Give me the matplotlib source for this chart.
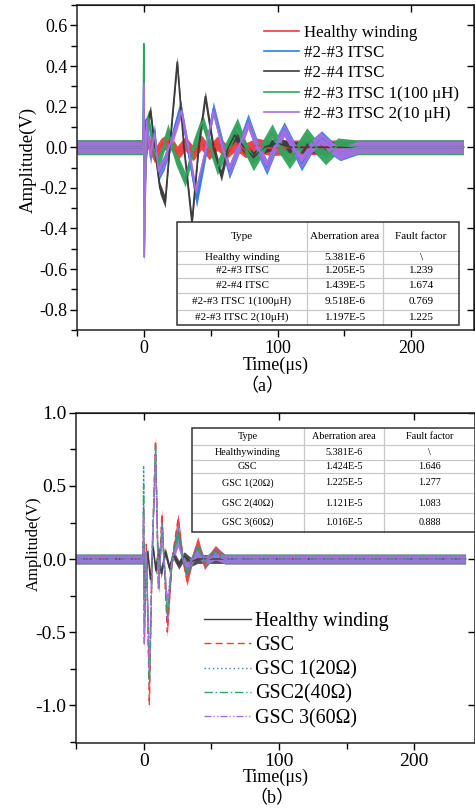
import numpy as np
import matplotlib
matplotlib.use("Agg")
import matplotlib.pyplot as plt
from matplotlib.patches import Rectangle
from matplotlib.ticker import MultipleLocator

plt.rcParams['font.family'] = ['Liberation Serif', 'Noto Sans CJK SC', 'DejaVu Sans']
plt.rcParams['axes.unicode_minus'] = False

# ---------------- (a) ITSC waveforms ----------------
A_LABELS = ['Healthy winding', '#2-#3 ITSC', '#2-#4 ITSC',
            '#2-#3 ITSC 1(100 μH)', '#2-#3 ITSC 2(10 μH)']
A_COLORS = ['#f23a3a', '#2f7ee6', '#3c3c3c', '#33a35e', '#a86fe3']

a_t_healthy = [-50, -0.5, 0, 0.4, 3, 8, 13, 19, 25, 31, 37, 43, 49, 55, 62, 69, 76, 84, 95, 110, 239]
a_v_healthy = [0, 0, 0.14, -0.12, 0.03, -0.04, 0.01, 0.035, -0.03, 0.02, -0.03, 0.025,
               -0.025, 0.02, -0.02, 0.02, -0.015, 0.01, -0.005, 0, 0]

a_t_23 = [-50, -0.5, 0, 0.3, 2, 5, 8, 11, 15, 20, 27.5, 33.5, 39.5, 46, 52, 58, 64, 71,
          78, 85, 92, 98, 105, 112, 118, 125, 133, 140, 147, 160, 239]
a_v_23 = [0, 0, 0.3, -0.54, 0.14, -0.05, 0.08, -0.13, -0.08, 0.02, 0.2, -0.03, -0.26, -0.03,
          0.19, 0.03, -0.12, 0.0, 0.13, 0.0, -0.1, 0.0, 0.09, 0.0, -0.08, 0.0, 0.045, 0,
          -0.03, 0, 0]

a_t_24 = [-50, -0.5, 0, 2, 5, 9, 12, 16, 20, 25, 30, 36, 41, 46, 52, 58, 63, 68, 75, 82,
          90, 100, 110, 239]
a_v_24 = [0, 0, 0.12, 0.1, 0.18, -0.05, -0.2, -0.27, 0.05, 0.42, 0.0, -0.37, 0.0, 0.25,
          0.0, -0.14, 0.0, 0.06, 0.0, -0.05, 0.0, 0.02, 0, 0]

a_t_100u = [-50, -0.5, 0, 0.3, 3, 7, 11, 18, 24, 31, 37, 44, 50, 55, 62, 70, 76, 82, 89,
            96, 102, 109, 116, 122, 129, 136, 145, 160, 239]
a_v_100u = [0, 0, 0.51, -0.29, 0.15, 0.0, -0.08, 0.08, -0.05, -0.16, 0.0, 0.13, 0.0, -0.1,
            0.0, 0.11, 0.0, -0.08, 0.0, 0.08, 0.0, -0.07, 0.0, 0.06, 0, -0.05, 0.01, 0, 0]

a_t_10u = [-50, -0.5, 0, 0.3, 2, 5, 8, 11, 15, 20, 28, 34, 39, 46, 52, 58, 64, 71, 78, 85,
           92, 98, 105, 112, 118, 125, 132, 140, 147, 160, 239]
a_v_10u = [0, 0, 0.31, -0.54, 0.13, -0.04, 0.07, -0.12, -0.07, 0.02, 0.18, -0.03, -0.22,
           -0.02, 0.18, 0.02, -0.11, 0.0, 0.12, 0.0, -0.09, 0.0, 0.085, 0.0, -0.07, 0.0,
           0.045, 0, -0.03, 0, 0]

a_noise = [0.036, 0.036, 0.028, 0.036, 0.03]   # half-width of the noise band (V)

a_table_rows = [['Healthy winding', '5.381E-6', '\\'],
                ['#2-#3 ITSC', '1.205E-5', '1.239'],
                ['#2-#4 ITSC', '1.439E-5', '1.674'],
                ['#2-#3 ITSC 1(100μH)', '9.518E-6', '0.769'],
                ['#2-#3 ITSC 2(10μH)', '1.197E-5', '1.225']]

# ---------------- (b) GSC waveforms ----------------
B_LABELS = ['Healthy winding', 'GSC', 'GSC 1(20Ω)', 'GSC2(40Ω)', 'GSC 3(60Ω)']
B_COLORS = ['#3c3c3c', '#f23a3a', '#2f7ee6', '#33a35e', '#a86fe3']
B_STYLES = ['-', (0, (5, 3)), (0, (1, 2)), (0, (6, 2, 1, 2)), (0, (5, 1.5, 1, 1.5, 1, 1.5))]

b_t_healthy = [-50, -0.5, 0, 0.6, 3, 5, 7, 9, 11, 13, 16, 19, 22, 26, 30, 35, 40, 238]
b_v_healthy = [0, 0, 0.11, -0.28, 0.05, -0.14, 0.08, -0.08, 0.07, -0.1, 0.05, -0.06,
               0.03, -0.04, 0.02, -0.02, 0, 0]

b_t_shape = [-50, -0.5, 0, 0.5, 2, 4.2, 6.5, 8.8, 11, 13.5, 17.5, 21, 25.5, 29, 32, 36,
             40, 45, 53, 60, 238]
b_v_gsc = [0, 0, 0.34, -0.58, 0.1, -1.0, 0.1, 0.81, -0.2, 0.31, -0.5, 0.0, 0.28, 0.0,
           -0.15, 0.0, 0.12, -0.04, 0.06, 0, 0]
b_v_20 = [0, 0, 0.64, -0.5, 0.05, -0.85, 0.1, 0.75, -0.2, 0.25, -0.42, 0.0, 0.2, 0.0,
          -0.1, 0.0, 0.08, -0.02, 0.04, 0, 0]
b_v_40 = [0, 0, 0.51, -0.45, 0.05, -0.85, 0.1, 0.78, -0.2, 0.22, -0.38, 0.0, 0.17, 0.0,
          -0.08, 0.0, 0.07, -0.02, 0.03, 0, 0]
b_v_60 = [0, 0, 0.3, -0.58, 0.05, -0.75, 0.1, 0.7, -0.2, 0.2, -0.3, 0.0, 0.11, 0.0,
          -0.05, 0.0, 0.04, -0.01, 0.02, 0, 0]

b_noise = [0.03, 0.033, 0.033, 0.033, 0.028]

b_table_rows = [['Healthywinding', '5.381E-6', '\\'],
                ['GSC', '1.424E-5', '1.646'],
                ['GSC 1(20Ω)', '1.225E-5', '1.277'],
                ['GSC 2(40Ω)', '1.121E-5', '1.083'],
                ['GSC 3(60Ω)', '1.016E-5', '0.888']]

TABLE_HEADER = ['Type', 'Aberration area', 'Fault factor']


def style_axes(ax, ymaj, ymin, lsize):
    ax.xaxis.set_major_locator(MultipleLocator(100))
    ax.xaxis.set_minor_locator(MultipleLocator(50))
    ax.yaxis.set_major_locator(MultipleLocator(ymaj))
    ax.yaxis.set_minor_locator(MultipleLocator(ymin))
    ax.tick_params(which='both', direction='out', width=1, labelsize=lsize, pad=2)
    ax.tick_params(which='major', length=5)
    ax.tick_params(which='minor', length=4)
    for sp in ax.spines.values():
        sp.set_linewidth(1.1)
        sp.set_color('#222222')
    # mirrored ticks pointing inward on top and right
    top = ax.secondary_xaxis('top')
    top.xaxis.set_major_locator(MultipleLocator(100))
    top.tick_params(direction='in', length=5, width=1, labeltop=False)
    right = ax.secondary_yaxis('right')
    right.yaxis.set_major_locator(MultipleLocator(ymaj))
    right.tick_params(direction='in', length=5, width=1, labelright=False)


def draw_table(ax, rows, x0, y0, width, height, col_w, row_h, fsize):
    # simple grid table in axes fraction coordinates
    tr = ax.transAxes
    ax.add_patch(Rectangle((x0, y0), width, height, transform=tr, facecolor='white',
                           edgecolor='none', zorder=20))
    cells = [TABLE_HEADER] + rows
    total = float(sum(row_h))
    xs = [x0]
    for w in col_w:
        xs.append(xs[-1] + width * w)
    y_top = y0 + height
    for r, row in enumerate(cells):
        h = height * row_h[r] / total
        y_bot = y_top - h
        if r > 0:
            ax.plot([x0, x0 + width], [y_top, y_top], transform=tr, color='#c8c8c8',
                    lw=0.9, zorder=21, clip_on=False)
        for c, txt in enumerate(row):
            ax.text((xs[c] + xs[c + 1]) / 2, (y_top + y_bot) / 2, txt, transform=tr,
                    ha='center', va='center', fontsize=fsize, zorder=22)
        y_top = y_bot
    for xv in xs[1:-1]:
        ax.plot([xv, xv], [y0, y0 + height], transform=tr, color='#c8c8c8', lw=0.9,
                zorder=21, clip_on=False)
    ax.add_patch(Rectangle((x0, y0), width, height, transform=tr, fill=False,
                           edgecolor='#333333', lw=1.1, zorder=23, clip_on=False))


fig = plt.figure(figsize=(4.75, 8.08), dpi=100)
ax1 = fig.add_axes([0.162, 0.5916, 0.836, 0.402])
ax2 = fig.add_axes([0.160, 0.0804, 0.840, 0.4085])

# ---- panel (a)
a_series = [(a_t_healthy, a_v_healthy), (a_t_23, a_v_23), (a_t_24, a_v_24),
            (a_t_100u, a_v_100u), (a_t_10u, a_v_10u)]
for (t, v), col, lab, nz in zip(a_series, A_COLORS, A_LABELS, a_noise):
    t = np.asarray(t)
    v = np.asarray(v)
    ax1.fill_between(t, v - nz, v + nz, color=col, lw=0, alpha=0.95)
    ax1.plot(t, v, color=col, lw=1.2, label=lab)
ax1.set_xlim(-50, 247)
ax1.set_ylim(-0.9, 0.7)
style_axes(ax1, 0.2, 0.1, 13)
ax1.set_xlabel('Time(μs)', fontsize=13, labelpad=0)
ax1.set_ylabel('Amplitude(V)', fontsize=13.5)
ax1.yaxis.set_label_coords(-0.10, 0.523)
ax1.legend(loc='upper left', bbox_to_anchor=(0.453, 0.96), frameon=False, fontsize=12.2,
           handlelength=2.1, handletextpad=0.3, labelspacing=0.25, borderaxespad=0)
draw_table(ax1, a_table_rows, 0.252, 0.015, 0.710, 0.317, [0.461, 0.27, 0.27],
           [86, 39, 43, 45, 50, 46], 8)
fig.text(0.552, 1 - 387 / 808, '（a）', ha='center', va='center', fontsize=13)

# ---- panel (b)
b_series = [(b_t_healthy, b_v_healthy), (b_t_shape, b_v_gsc), (b_t_shape, b_v_20),
            (b_t_shape, b_v_40), (b_t_shape, b_v_60)]
for (t, v), col, ls, lab, nz in zip(b_series, B_COLORS, B_STYLES, B_LABELS, b_noise):
    t = np.asarray(t)
    v = np.asarray(v)
    ax2.fill_between(t, v - nz, v + nz, color=col, lw=0, alpha=0.9)
    ax2.plot(t, v, color=col, lw=1.0, ls=ls, label=lab)
ax2.set_xlim(-50, 245)
ax2.set_ylim(-1.26, 1.0)
style_axes(ax2, 0.5, 0.25, 14)
ax2.set_xlabel('Time(μs)', fontsize=13, labelpad=-1)
ax2.set_ylabel('Amplitude(V)', fontsize=12)
ax2.yaxis.set_label_coords(-0.085, 0.603)
ax2.legend(loc='upper left', bbox_to_anchor=(0.3, 0.42), frameon=False, fontsize=14.4,
           handlelength=2.35, handletextpad=0.2, labelspacing=0.25, borderaxespad=0)
draw_table(ax2, b_table_rows, 0.29, 0.638, 0.71, 0.316, [0.396, 0.284, 0.32],
           [50, 45, 38, 62, 58, 59], 7.3)
fig.text(0.573, 1 - 799 / 808, '（b）', ha='center', va='center', fontsize=13)

fig.savefig('out.png', dpi=100)
